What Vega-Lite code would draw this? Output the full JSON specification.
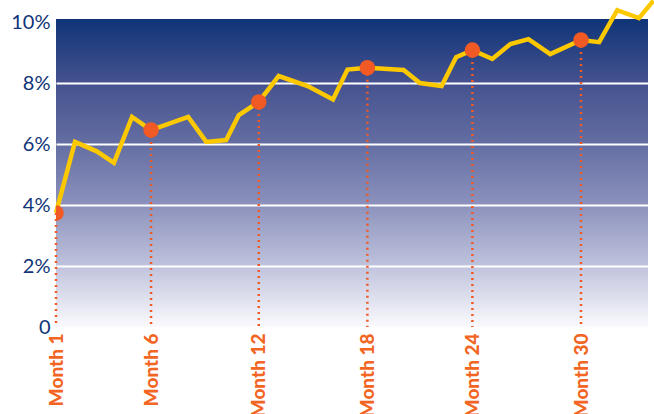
{
  "$schema": "https://vega.github.io/schema/vega-lite/v6.json",
  "autosize": "none",
  "width": 592,
  "height": 308,
  "padding": {"left": 56, "top": 19, "right": 6, "bottom": 87},
  "background": "white",
  "view": {
    "stroke": null,
    "fill": {
      "gradient": "linear", "x1": 0, "y1": 0, "x2": 0, "y2": 1,
      "stops": [
        {"offset": 0, "color": "#0f3478"},
        {"offset": 0.2, "color": "#44518e"},
        {"offset": 0.4, "color": "#636da2"},
        {"offset": 0.6, "color": "#8b91bc"},
        {"offset": 0.8, "color": "#bfc2dc"},
        {"offset": 1, "color": "#fafafd"}
      ]
    }
  },
  "datasets": {
    "series": [
      {"month": 1, "rate": 3.74},
      {"month": 2.05, "rate": 6.07},
      {"month": 3.25, "rate": 5.76},
      {"month": 4.2, "rate": 5.38},
      {"month": 5.2, "rate": 6.89},
      {"month": 6.25, "rate": 6.46},
      {"month": 8.3, "rate": 6.89},
      {"month": 9.3, "rate": 6.07},
      {"month": 10.4, "rate": 6.13},
      {"month": 11.1, "rate": 6.95},
      {"month": 12.2, "rate": 7.38},
      {"month": 13.3, "rate": 8.23},
      {"month": 14.9, "rate": 7.9},
      {"month": 16.3, "rate": 7.46},
      {"month": 17.1, "rate": 8.44},
      {"month": 18.2, "rate": 8.5},
      {"month": 20.2, "rate": 8.43},
      {"month": 21.1, "rate": 8.0},
      {"month": 22.3, "rate": 7.9},
      {"month": 23.1, "rate": 8.85},
      {"month": 24.0, "rate": 9.08},
      {"month": 25.1, "rate": 8.79},
      {"month": 26.1, "rate": 9.28},
      {"month": 27.1, "rate": 9.44},
      {"month": 28.3, "rate": 8.95},
      {"month": 30.0, "rate": 9.41},
      {"month": 31.0, "rate": 9.34},
      {"month": 32.0, "rate": 10.39},
      {"month": 33.2, "rate": 10.13},
      {"month": 34.0, "rate": 10.7}
    ],
    "markers": [
      {"month": 1, "rate": 3.74},
      {"month": 6.25, "rate": 6.46},
      {"month": 12.2, "rate": 7.38},
      {"month": 18.2, "rate": 8.5},
      {"month": 24.0, "rate": 9.08},
      {"month": 30.0, "rate": 9.41}
    ]
  },
  "encoding": {
    "x": {
      "field": "month", "type": "quantitative",
      "scale": {"domain": [1, 33.7], "nice": false, "zero": false},
      "axis": {
        "title": null, "values": [1, 6.25, 12.2, 18.2, 24, 30],
        "labelExpr": "'Month ' + round(datum.value)",
        "labelAngle": -90, "labelAlign": "right", "labelBaseline": "middle",
        "labelPadding": 6, "labelFont": "Lato", "labelFontSize": 19, "labelFontWeight": 900,
        "labelColor": "#f26522", "domain": false, "ticks": false, "grid": false, "labelFlush": false, "labelOverlap": false
      }
    },
    "y": {
      "field": "rate", "type": "quantitative",
      "scale": {"domain": [0, 10.1], "nice": false},
      "axis": {
        "title": null, "values": [0, 2, 4, 6, 8, 10],
        "labelExpr": "datum.value == 0 ? '0' : datum.value + '%'",
        "labelFont": "Lato", "labelFontSize": 20, "labelColor": "#0f3478",
        "labelPadding": 6, "domain": false, "ticks": false,
        "grid": true, "gridColor": "white", "gridWidth": 2,
        "gridOpacity": {"condition": {"test": "datum.value == 0 || datum.value == 10", "value": 0}, "value": 1},
        "labelFlush": false
      }
    }
  },
  "layer": [
    {
      "data": {"name": "markers"},
      "mark": {"type": "rule", "color": "#f15a24", "strokeWidth": 2.5, "strokeDash": [2, 4]},
      "encoding": {"y2": {"datum": 0}}
    },
    {
      "data": {"name": "series"},
      "mark": {"type": "line", "color": "#fcc800", "strokeWidth": 4.5, "clip": false, "strokeJoin": "miter"}
    },
    {
      "data": {"name": "markers"},
      "mark": {"type": "circle", "color": "#f15a24", "opacity": 1, "size": 240, "clip": true}
    }
  ]
}
